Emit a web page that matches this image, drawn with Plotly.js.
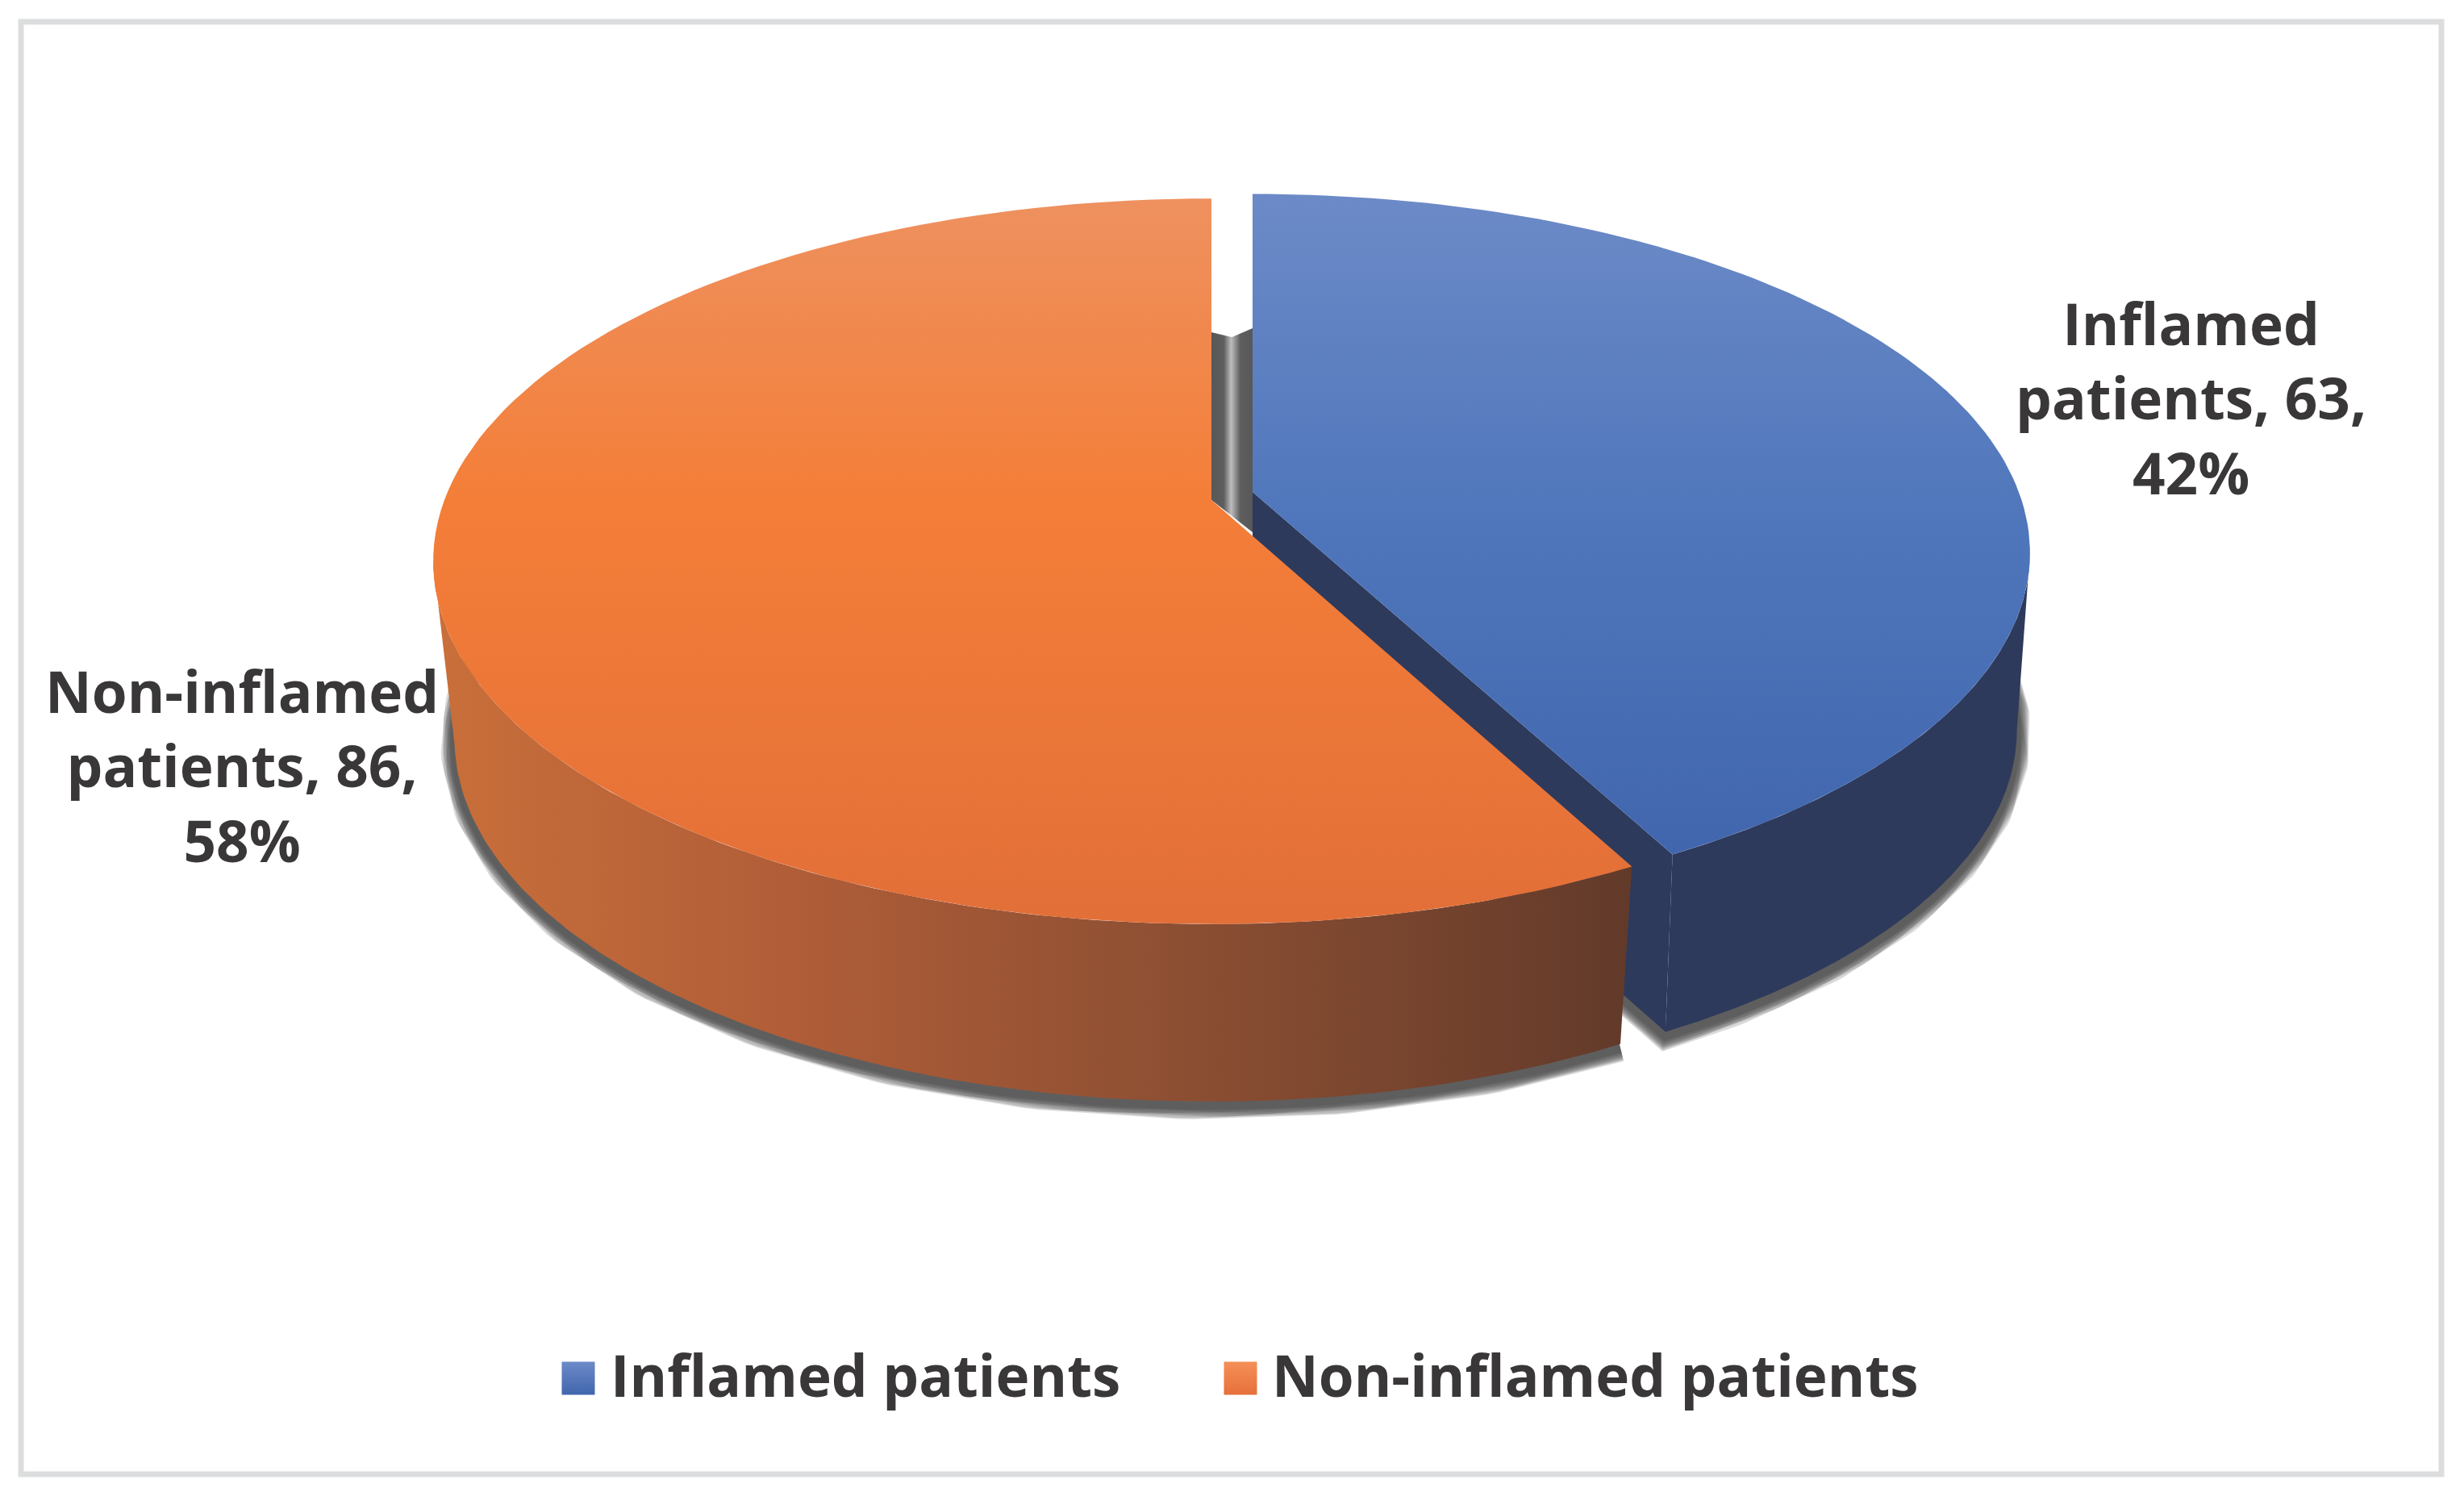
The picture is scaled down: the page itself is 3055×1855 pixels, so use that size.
<!DOCTYPE html>
<html>
<head>
<meta charset="utf-8">
<script src="https://cdn.plot.ly/plotly-3.0.1.min.js"></script>
<style>body { margin: 0; background: #fff; }</style>
</head>
<body>
<div id="graph" style="width:3055px;height:1855px"></div>
<script>
///////////////////////////////////Data///////////////////////////////////
var categories = ['Inflamed patients', 'Non-inflamed patients'];
var patientCounts = [63, 86];
var percentLabels = ['42%', '58%'];
var labelNames = ['Inflamed<br>patients', 'Non-inflamed<br>patients'];

///////////////////////////////////Look of the pie////////////////////////
var tilt = 0.169;       // perspective of the pie plate
var depth = 220;        // height of the wall in pixels
var blue = {cx: 1553, cy: 610, a: 950, aBase: 934, b: 432};
var orange = {cx: 1502, cy: 620, a: 951, aBase: 925, b: 437};
var textColor = '#393738';
var fontName = 'Open Sans';
var fontSize = 71;

var total = patientCounts[0] + patientCounts[1];
var splitAngle = 2 * Math.PI * patientCounts[0] / total;

// point on the rim for an angle measured clockwise from the back of the pie
function rim(slice, angle, isBase) {
    var w = 1 + tilt * Math.cos(angle);
    var a = isBase ? slice.aBase : slice.a;
    return [slice.cx + a * Math.sin(angle) / w,
            slice.cy + (isBase ? depth : 0) - slice.b * Math.cos(angle) / w];
}

function arc(slice, from, to, isBase) {
    var pts = [];
    var steps = 120;
    for (var i = 0; i <= steps; i++) {
        pts.push(rim(slice, from + (to - from) * i / steps, isBase));
    }
    return pts;
}

function polygon(pts, gradient, color) {
    var trace = {
        x: pts.map(function(p) { return p[0]; }),
        y: pts.map(function(p) { return p[1]; }),
        mode: 'lines',
        fill: 'toself',
        line: {width: 0},
        hoverinfo: 'skip',
        showlegend: false
    };
    if (gradient) trace.fillgradient = gradient;
    else trace.fillcolor = color;
    return trace;
}

function shadow(pts) {
    var widths = [34, 31, 28, 25, 22, 19, 16, 13, 10];
    return widths.map(function(w) {
        return {
            x: pts.map(function(p) { return p[0]; }),
            y: pts.map(function(p) { return p[1] + 5; }),
            mode: 'lines',
            line: {width: w, color: 'rgba(70,70,70,0.2)'},
            hoverinfo: 'skip',
            showlegend: false
        };
    });
}

var blueFrom = 1.74;                     // where the right side of the wall starts
var orangeTo = 2 * Math.PI - 1.74;       // where the left side of the wall ends

// the y axis runs downwards, so these scales go from the bottom colour to the top colour
var blueTopColors = [[0, '#4166ae'], [0.5, '#4f76bb'], [1, '#6c8ac7']];
var orangeTopColors = [[0, '#e26f38'], [0.58, '#f47e38'], [1, '#ee915f']];
var orangeWallColors = [[0, '#c96f3a'], [0.3, '#b05d38'], [0.6, '#8f5033'], [1, '#623a2a']];

var traces = [];

// shadows under the base
traces = traces.concat(shadow(arc(blue, blueFrom - 0.2, splitAngle, true).concat([[blue.cx, blue.cy + depth]])));
traces = traces.concat(shadow(arc(orange, splitAngle, orangeTo + 0.2, true).concat([[orange.cx, orange.cy + depth]])));

// inner walls seen in the gap between the two slices
traces.push(polygon([[orange.cx, 412], [(orange.cx + blue.cx) / 2, 418], [blue.cx, 407],
                     [blue.cx, blue.cy + 50], [orange.cx, orange.cy]],
    {type: 'horizontal', colorscale: [[0, '#585858'], [0.3, '#5e5e5e'], [0.48, '#bdbdbd'], [0.7, '#5e5e5e'], [1, '#585858']]}));

// blue slice
var blueCorner = rim(blue, splitAngle, false);
var blueBaseCorner = rim(blue, splitAngle, true);
traces.push(polygon([[blue.cx, blue.cy], blueCorner, blueBaseCorner, [blue.cx, blue.cy + depth]], null, '#2e3a5c'));
traces.push(polygon(arc(blue, blueFrom, splitAngle, false).concat(arc(blue, splitAngle, blueFrom, true)), null, '#2e3a5c'));
traces.push(polygon([[blue.cx, blue.cy]].concat(arc(blue, 0, splitAngle, false)),
    {type: 'vertical', colorscale: blueTopColors}));

// orange slice
traces.push(polygon(arc(orange, splitAngle, orangeTo, false).concat(arc(orange, orangeTo, splitAngle, true)),
    {type: 'horizontal', colorscale: orangeWallColors}));
traces.push(polygon([[orange.cx, orange.cy]].concat(arc(orange, splitAngle, 2 * Math.PI, false)),
    {type: 'vertical', colorscale: orangeTopColors}));

// legend
var legendSwatchX = [717, 1538];
var legendTextX = [755, 1575];
var legendY = 1709;
var legendColors = [['#6c8ac7', '#4166ae'], ['#f59058', '#e6703a']];
categories.forEach(function(name, i) {
    traces.push({
        x: [legendSwatchX[i]],
        y: [legendY],
        mode: 'markers',
        name: name,
        marker: {symbol: 'square', size: 41, color: legendColors[i][0],
                 gradient: {type: 'vertical', color: legendColors[i][1]}, line: {width: 0}},
        hoverinfo: 'skip',
        showlegend: false
    });
});

var annotations = categories.map(function(name, i) {
    return {
        x: legendTextX[i], y: 1733, xref: 'x', yref: 'y',
        text: name, showarrow: false,
        xanchor: 'left', yanchor: 'bottom', yshift: -22,
        font: {family: fontName, size: fontSize, color: textColor, weight: 700}
    };
});

// data labels
var labelX = [2716, 300];
var labelY = [493, 949];
labelNames.forEach(function(name, i) {
    annotations.push({
        x: labelX[i], y: labelY[i], xref: 'x', yref: 'y',
        text: name + ', ' + patientCounts[i] + ',<br>' + percentLabels[i],
        showarrow: false,
        align: 'center', xanchor: 'center', yanchor: 'middle',
        font: {family: fontName, size: fontSize, color: textColor, weight: 700}
    });
});

var layout = {
    width: 3055,
    height: 1855,
    margin: {l: 0, r: 0, t: 0, b: 0},
    paper_bgcolor: '#ffffff',
    plot_bgcolor: '#ffffff',
    showlegend: false,
    xaxis: {range: [0, 3055], visible: false, fixedrange: true},
    yaxis: {range: [1855, 0], visible: false, fixedrange: true},
    annotations: annotations,
    shapes: [{
        type: 'rect', xref: 'x', yref: 'y', layer: 'below',
        x0: 26, x1: 3027, y0: 27, y1: 1828,
        line: {color: '#dcddde', width: 7}, fillcolor: 'rgba(0,0,0,0)'
    }]
};

Plotly.newPlot('graph', traces, layout, {displayModeBar: false, staticPlot: true});
</script>
</body>
</html>
